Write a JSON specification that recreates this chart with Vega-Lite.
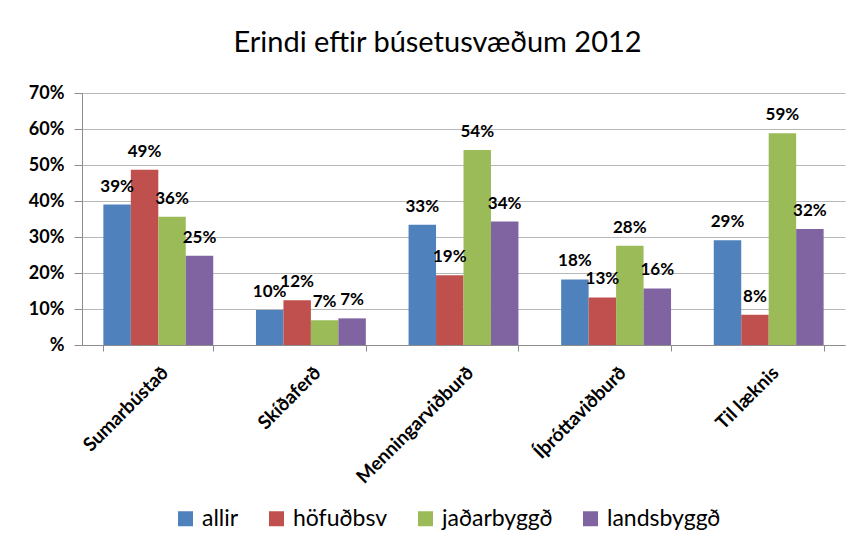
{
  "$schema": "https://vega.github.io/schema/vega-lite/v6.json",
  "width": 763,
  "height": 252,
  "autosize": {"type": "none"},
  "padding": {"left": 82, "top": 93, "right": 11, "bottom": 204},
  "background": "white",
  "title": {"text": "Erindi eftir búsetusvæðum 2012", "font": "Lato", "fontSize": 29, "fontWeight": "normal", "color": "black", "anchor": "middle", "dx": -26, "offset": 26},
  "config": {"view": {"stroke": null}},
  "data": {"values": [
    {"flokkur": "Sumarbústað", "hopur": "allir", "gildi": 0.39},
    {"flokkur": "Sumarbústað", "hopur": "höfuðbsv", "gildi": 0.487},
    {"flokkur": "Sumarbústað", "hopur": "jaðarbyggð", "gildi": 0.356},
    {"flokkur": "Sumarbústað", "hopur": "landsbyggð", "gildi": 0.248},
    {"flokkur": "Skíðaferð", "hopur": "allir", "gildi": 0.097},
    {"flokkur": "Skíðaferð", "hopur": "höfuðbsv", "gildi": 0.124},
    {"flokkur": "Skíðaferð", "hopur": "jaðarbyggð", "gildi": 0.069},
    {"flokkur": "Skíðaferð", "hopur": "landsbyggð", "gildi": 0.074},
    {"flokkur": "Menningarviðburð", "hopur": "allir", "gildi": 0.334},
    {"flokkur": "Menningarviðburð", "hopur": "höfuðbsv", "gildi": 0.194},
    {"flokkur": "Menningarviðburð", "hopur": "jaðarbyggð", "gildi": 0.542},
    {"flokkur": "Menningarviðburð", "hopur": "landsbyggð", "gildi": 0.343},
    {"flokkur": "Íþróttaviðburð", "hopur": "allir", "gildi": 0.182},
    {"flokkur": "Íþróttaviðburð", "hopur": "höfuðbsv", "gildi": 0.132},
    {"flokkur": "Íþróttaviðburð", "hopur": "jaðarbyggð", "gildi": 0.276},
    {"flokkur": "Íþróttaviðburð", "hopur": "landsbyggð", "gildi": 0.157},
    {"flokkur": "Til læknis", "hopur": "allir", "gildi": 0.291},
    {"flokkur": "Til læknis", "hopur": "höfuðbsv", "gildi": 0.084},
    {"flokkur": "Til læknis", "hopur": "jaðarbyggð", "gildi": 0.588},
    {"flokkur": "Til læknis", "hopur": "landsbyggð", "gildi": 0.322}
  ]},
  "encoding": {
    "x": {
      "field": "flokkur", "type": "nominal",
      "sort": ["Sumarbústað", "Skíðaferð", "Menningarviðburð", "Íþróttaviðburð", "Til læknis"],
      "scale": {"paddingInner": 0.28, "paddingOuter": 0.14},
      "axis": {"title": null, "labelAngle": -45, "labelFont": "Lato", "labelFontWeight": "bold", "labelFontSize": 19, "labelColor": "black", "tickBand": "extent", "domainColor": "#8c8c8c", "tickColor": "#8c8c8c", "tickSize": 6, "labelPadding": 12}
    },
    "xOffset": {"field": "hopur", "type": "nominal", "sort": ["allir", "höfuðbsv", "jaðarbyggð", "landsbyggð"]},
    "y": {
      "field": "gildi", "type": "quantitative",
      "scale": {"domain": [0, 0.7]},
      "axis": {"title": null, "values": [0, 0.1, 0.2, 0.3, 0.4, 0.5, 0.6, 0.7], "labelExpr": "datum.value == 0 ? '%' : format(datum.value, '.0%')", "labelFont": "Lato", "labelFontWeight": "bold", "labelFontSize": 18, "labelColor": "black", "domainColor": "#8c8c8c", "tickColor": "#8c8c8c", "tickSize": 8, "gridColor": "#b8b8b8", "labelPadding": 10}
    }
  },
  "layer": [
    {
      "mark": {"type": "bar"},
      "encoding": {
        "color": {
          "field": "hopur", "type": "nominal",
          "sort": ["allir", "höfuðbsv", "jaðarbyggð", "landsbyggð"],
          "scale": {"domain": ["allir", "höfuðbsv", "jaðarbyggð", "landsbyggð"], "range": ["#4F81BD", "#C0504D", "#9BBB59", "#8064A2"]},
          "legend": {"title": null, "orient": "none", "direction": "horizontal", "legendX": 92, "legendY": 414, "labelFont": "Lato", "labelFontSize": 23, "labelColor": "black", "symbolType": "square", "symbolSize": 225, "symbolStrokeWidth": 0, "columnPadding": 26, "labelOffset": 5}
        }
      }
    },
    {
      "mark": {"type": "text", "baseline": "bottom", "dy": -9, "font": "Lato", "fontWeight": "bold", "fontSize": 17, "color": "black"},
      "encoding": {"text": {"field": "gildi", "type": "quantitative", "format": ".0%"}}
    }
  ]
}
